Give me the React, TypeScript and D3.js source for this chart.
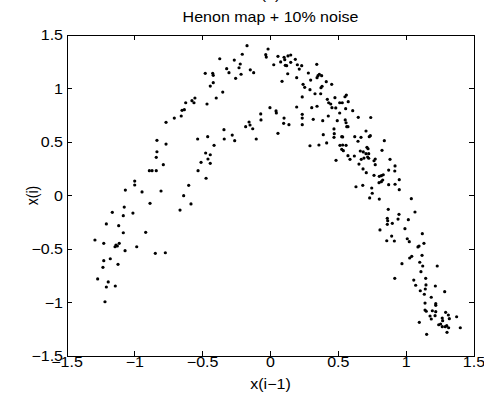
import React from 'react';
import * as d3 from 'd3';

const titleText = 'Henon map + 10% noise';
const panelText = '(b)';
const xLabelText = 'x(i\u22121)';
const yLabelText = 'x(i)';
const xTicks = [-1.5, -1, -0.5, 0, 0.5, 1, 1.5];
const yTicks = [-1.5, -1, -0.5, 0, 0.5, 1, 1.5];

// x(i-1) values
const xPrev = [
  -1.070, -1.001, -1.001, -0.947, -0.893, -0.873, -0.842, -0.842, -0.837, -0.837,
  -0.790, -0.770, -0.807, -0.770, -0.709, -0.658, -0.652, -0.635, -0.625, -0.579,
  -0.564, -0.557, -0.640, -0.603, -0.537, -0.534, -0.512, -0.478, -0.475, -0.463,
  -0.461, -0.444, -0.444, -0.416, -0.468, -0.481, -0.444, -0.422, -0.426, -0.422,
  -0.400, -0.374, -0.352, -0.343, -0.341, -0.323, -0.306, -0.282, -0.264, -0.267,
  -0.257, -0.232, -0.223, -0.217, -0.208, -0.183, -0.158, -0.151, -0.131, -0.173,
  -0.149, -0.124, -0.105,
  -0.888, -0.586, -1.078, -0.667, -1.166, -1.014, -1.085, -1.210, -1.119, -1.085,
  -0.920, -1.294, -1.229, -1.139, -1.146, -1.129, -1.115, -0.986, -1.072, -0.849,
  -0.775, -1.181, -1.229, -1.124, -1.235, -1.274, -1.196, -1.210, -1.144, -1.220,
  -0.018, -0.035, -0.031, 0.055, 0.024, 0.075, 0.100, 0.105, 0.109, 0.119,
  0.129, 0.149, 0.149, 0.183, 0.198, 0.212, 0.230, 0.127, 0.085, 0.193,
  0.279, 0.341, 0.296, 0.343, 0.350, 0.360, 0.377, 0.240, 0.252, 0.291,
  0.411, 0.380, 0.372, 0.451, 0.328, 0.370, 0.234, 0.419, 0.429, 0.444,
  0.453, 0.475, 0.481, 0.510, 0.529, 0.549, 0.559, 0.573, 0.554, 0.606,
  0.647, 0.739, 0.510, 0.492, 0.551, 0.557, 0.562, 0.571, 0.426, 0.385,
  0.343, 0.304, 0.315, 0.234, 0.234, 0.234, 0.193, 0.100, 0.097, 0.136,
  -0.004, 0.041, 0.043, -0.072, -0.070, 0.468, 0.055, 0.389, 0.470, 0.468,
  0.414, 0.357, 0.291, 0.483,
  0.704, 0.525, 0.532, 0.621, 0.667, 0.728, 0.736, 0.645, 0.839, 0.512,
  0.532, 0.557, 0.525, 0.537, 0.711, 0.719, 0.662, 0.684, 0.704, 0.724,
  0.822, 0.571, 0.586, 0.618, 0.669, 0.689, 0.716, 0.724, 0.763, 0.772,
  0.772, 0.881, 0.652, 0.682, 0.706, 0.918, 0.916, 0.871, 0.763, 0.802,
  0.817, 0.831, 0.800, 0.817, 0.827, 0.949, 0.871, 0.918, 0.949, 0.630,
  0.680, 0.746, 0.750, 0.731, 0.802, 1.038,
  0.868, 0.861, 0.864, 0.861, 0.898, 0.807, 0.947, 0.940, 1.016, 1.065,
  0.991, 0.893, 0.913, 0.857, 1.008, 1.023, 1.119, 1.131, 1.087, 1.095,
  1.117, 1.026, 1.041, 0.969, 1.100, 1.122, 1.229, 1.109, 0.916, 1.056,
  1.070, 1.144, 1.146, 1.141, 1.104, 1.134, 1.215, 1.284, 1.185, 1.139,
  1.218, 1.218, 1.139, 1.148, 1.193, 1.218, 1.213, 1.176, 1.185, 1.291,
  1.311, 1.318, 1.266, 1.269, 1.372, 1.097, 1.240, 1.254, 1.266, 1.288,
  1.299, 1.313, 1.301, 1.399, 1.151,
];

// x(i) values
const xCurr = [
  0.051, 0.135, 0.098, 0.033, 0.232, 0.232, 0.232, 0.357, 0.409, 0.516,
  0.288, 0.481, 0.042, 0.684, 0.724, 0.743, 0.796, 0.802, 0.867, 0.886,
  0.867, 0.911, -0.002, 0.095, 0.528, 0.232, 0.310, 0.397, 0.161, 0.550,
  0.341, 0.381, 0.301, 0.469, 0.855, 1.142, 1.023, 1.054, 1.142, 1.123,
  0.911, 1.278, 0.967, 0.615, 0.528, 1.185, 1.148, 0.565, 0.512, 1.266,
  1.095, 1.194, 1.229, 1.133, 1.320, 0.643, 0.687, 0.659, 0.624, 1.400,
  1.175, 1.148, 0.528,
  -0.073, -0.079, -0.108, -0.136, -0.157, -0.164, -0.189, -0.266, -0.282, -0.348,
  -0.344, -0.416, -0.447, -0.463, -0.479, -0.472, -0.447, -0.479, -0.516, -0.540,
  -0.535, -0.591, -0.609, -0.643, -0.671, -0.780, -0.808, -0.855, -0.846, -0.993,
  1.369, 1.316, 1.294, 1.301, 1.222, 1.248, 1.292, 1.269, 1.217, 1.213,
  1.304, 1.313, 1.245, 1.273, 1.222, 1.182, 1.213, 1.138, 1.067, 1.101,
  1.145, 1.226, 1.079, 1.101, 1.120, 1.133, 1.120, 1.039, 1.011, 0.989,
  1.064, 1.021, 1.007, 1.039, 0.951, 0.951, 0.921, 0.899, 0.867, 0.855,
  0.821, 0.914, 0.818, 0.867, 0.867, 0.923, 0.939, 0.877, 0.811, 0.793,
  0.731, 0.729, 0.771, 0.699, 0.706, 0.680, 0.643, 0.643, 0.743, 0.699,
  0.834, 0.821, 0.712, 0.759, 0.724, 0.662, 0.827, 0.724, 0.675, 0.662,
  0.821, 0.790, 0.771, 0.762, 0.706, 0.622, 0.581, 0.568, 0.578, 0.544,
  0.491, 0.472, 0.465, 0.329,
  0.603, 0.550, 0.547, 0.550, 0.544, 0.550, 0.559, 0.507, 0.512, 0.469,
  0.472, 0.469, 0.432, 0.419, 0.450, 0.437, 0.416, 0.407, 0.391, 0.391,
  0.422, 0.372, 0.338, 0.369, 0.338, 0.350, 0.360, 0.348, 0.325, 0.341,
  0.288, 0.338, 0.294, 0.248, 0.213, 0.276, 0.229, 0.238, 0.189, 0.179,
  0.185, 0.194, 0.120, 0.129, 0.145, 0.148, 0.101, 0.105, 0.054, 0.082,
  0.095, 0.070, 0.021, -0.023, -0.033, -0.030,
  -0.129, -0.213, -0.236, -0.269, -0.260, -0.322, -0.176, -0.220, -0.226, -0.154,
  -0.310, -0.379, -0.425, -0.423, -0.404, -0.432, -0.357, -0.447, -0.481, -0.472,
  -0.559, -0.584, -0.568, -0.637, -0.624, -0.659, -0.659, -0.712, -0.774, -0.790,
  -0.839, -0.774, -0.836, -0.874, -0.890, -0.923, -0.846, -0.899, -0.951, -1.005,
  -1.011, -1.026, -1.070, -1.082, -1.077, -1.086, -1.123, -1.126, -1.154, -1.092,
  -1.117, -1.151, -1.145, -1.170, -1.133, -1.185, -1.208, -1.201, -1.226, -1.226,
  -1.217, -1.236, -1.279, -1.236, -1.297,
];

const FONT = '"Liberation Sans", Arial, Helvetica, sans-serif';
const SX = 1.145;

function fmt(v: number): string {
  return v < 0 ? '\u2212' + String(Math.abs(v)) : String(v);
}

function T(props: { x: number; y: number; anchor?: string; rotate?: number; size?: number; children: React.ReactNode }) {
  const { x, y, anchor = 'middle', rotate = 0, size = 14, children } = props;
  return (
    <text
      transform={`translate(${x},${y}) scale(${SX},1)${rotate ? ` rotate(${rotate})` : ''}`}
      textAnchor={anchor}
      fontFamily={FONT}
      fontSize={size}
      fill="#000"
    >
      {children}
    </text>
  );
}

export default function App() {
  const W = 484;
  const H = 396;
  const left = 67, right = 474, top = 35, bottom = 356;
  const x = d3.scaleLinear().domain([-1.5, 1.5]).range([left, right]);
  const y = d3.scaleLinear().domain([-1.5, 1.5]).range([bottom, top]);
  const tl = 5;
  const pts = xPrev.map((v, i) => [v, xCurr[i]]);

  return (
    <svg width={W} height={H} style={{ position: 'absolute', left: 0, top: 0, background: '#fff' }}>
      <rect x={0} y={0} width={W} height={H} fill="#fff" />
      <g shapeRendering="crispEdges" stroke="#000" strokeWidth={1}>
        <rect x={left} y={top} width={right - left} height={bottom - top} fill="none" />
        {xTicks.map((t) => (
          <g key={'xt' + t}>
            <line x1={x(t)} x2={x(t)} y1={bottom} y2={bottom - tl} />
            <line x1={x(t)} x2={x(t)} y1={top} y2={top + tl} />
          </g>
        ))}
        {yTicks.map((t) => (
          <g key={'yt' + t}>
            <line x1={left} x2={left + tl} y1={y(t)} y2={y(t)} />
            <line x1={right} x2={right - tl} y1={y(t)} y2={y(t)} />
          </g>
        ))}
      </g>
      {pts.map((p, i) => (
        <circle key={i} cx={x(p[0])} cy={y(p[1])} r={1.6} fill="#000" />
      ))}
      {xTicks.map((t) => (
        <T key={'xl' + t} x={x(t)} y={bottom + 11}>{fmt(t)}</T>
      ))}
      {yTicks.map((t) => (
        <T key={'yl' + t} x={left - 4} y={y(t) + 5} anchor="end">{fmt(t)}</T>
      ))}
      <T x={(left + right) / 2} y={389}>{xLabelText}</T>
      <T x={38} y={(top + bottom) / 2} rotate={-90}>{yLabelText}</T>
      <T x={(left + right) / 2} y={22}>{titleText}</T>
      <T x={(left + right) / 2} y={-1}>{panelText}</T>
    </svg>
  );
}
